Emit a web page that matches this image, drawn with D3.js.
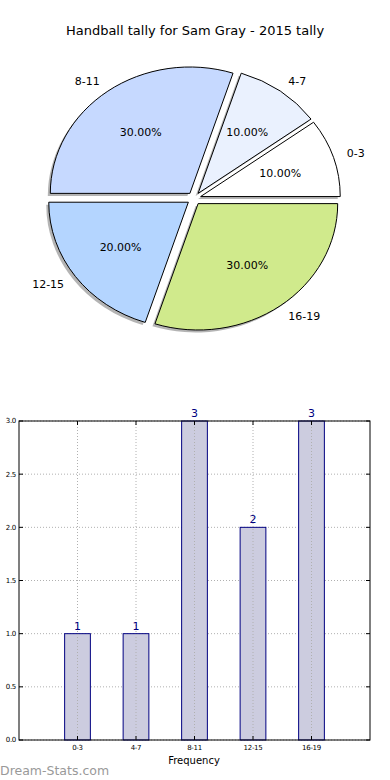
<!doctype html>
<html>
<head>
<meta charset="UTF-8">
<title>Handball tally</title>
<script src="https://d3js.org/d3.v7.min.js"></script>
<style>
  body { margin: 0; background: #fff; }
  text { font-family: "DejaVu Sans", sans-serif; }
</style>
</head>
<body>
<svg id="chart" width="390" height="780"></svg>
<script>
    // data
    var categories = ["0-3", "4-7", "8-11", "12-15", "16-19"];
    var counts = [1, 1, 3, 2, 3];
    var sliceColors = ["#ffffff", "#eaf1fe", "#c6d9ff", "#b4d5ff", "#d0ea8c"];
    var yTicks = [0.0, 0.5, 1.0, 1.5, 2.0, 2.5, 3.0];

    var svg = d3.select("#chart");

    svg.append("text")
        .attr("x", 195).attr("y", 35)
        .attr("text-anchor", "middle")
        .attr("font-size", 13)
        .text("Handball tally for Sam Gray - 2015 tally");

    // ---- pie (elliptical, like matplotlib without equal aspect) ----
    var cx = 194, cy = 198.5, rx = 139.6, ry = 126.4, explode = 0.05;
    var total = d3.sum(counts);
    // d3 angles: 0 = up, clockwise -> go counterclockwise from 3 o'clock
    var pie = d3.pie().sort(null).value(function (d) { return d; })
        .startAngle(Math.PI / 2).endAngle(Math.PI / 2 - 2 * Math.PI);
    var arcs = pie(counts);
    var arcGen = d3.arc().innerRadius(0).outerRadius(1);

    var gPie = svg.append("g").attr("transform", "translate(" + cx + "," + cy + ")");

    arcs.forEach(function (a) {
        var mid = (a.startAngle + a.endAngle) / 2;
        var ox = explode * Math.sin(mid), oy = -explode * Math.cos(mid);
        gPie.append("path")
            .attr("d", arcGen(a))
            .attr("transform", "translate(" + (ox * rx - 2.5) + "," + (oy * ry + 2.5) + ") scale(" + rx + "," + ry + ")")
            .attr("fill", "#777")
            .attr("opacity", 0.55);
    });
    arcs.forEach(function (a, i) {
        var mid = (a.startAngle + a.endAngle) / 2;
        var ox = explode * Math.sin(mid), oy = -explode * Math.cos(mid);
        gPie.append("path")
            .attr("d", arcGen(a))
            .attr("transform", "translate(" + (ox * rx) + "," + (oy * ry) + ") scale(" + rx + "," + ry + ")")
            .attr("fill", sliceColors[i])
            .attr("stroke", "#000")
            .attr("stroke-width", 1)
            .attr("vector-effect", "non-scaling-stroke");
    });
    arcs.forEach(function (a, i) {
        var mid = (a.startAngle + a.endAngle) / 2;
        var sx = Math.sin(mid), sy = -Math.cos(mid);
        gPie.append("text")
            .attr("x", (explode + 1.1) * rx * sx)
            .attr("y", (explode + 1.1) * ry * sy)
            .attr("dy", "0.35em")
            .attr("text-anchor", sx > 0 ? "start" : "end")
            .attr("font-size", 11)
            .text(categories[i]);
        gPie.append("text")
            .attr("x", (explode + 0.6) * rx * sx)
            .attr("y", (explode + 0.6) * ry * sy)
            .attr("dy", "0.35em")
            .attr("text-anchor", "middle")
            .attr("font-size", 11)
            .text((100 * counts[i] / total).toFixed(2) + "%");
    });

    // ---- bar chart ----
    var pLeft = 19, pRight = 370, pTop = 421, pBottom = 740;
    var x = d3.scaleLinear().domain([-1, 5]).range([pLeft, pRight]);
    var y = d3.scaleLinear().domain([0, 3]).range([pBottom, pTop]);
    var barW = 0.44;

    var gBar = svg.append("g");

    gBar.selectAll(".hgrid").data(yTicks).enter().append("line")
        .attr("x1", pLeft).attr("x2", pRight)
        .attr("y1", function (d) { return y(d); })
        .attr("y2", function (d) { return y(d); })
        .attr("stroke", "#b0b0b0").attr("stroke-width", 1)
        .attr("stroke-dasharray", "1,2");

    gBar.selectAll(".bar").data(counts).enter().append("rect")
        .attr("x", function (d, i) { return x(i - barW / 2); })
        .attr("y", function (d) { return y(d); })
        .attr("width", x(barW) - x(0))
        .attr("height", function (d) { return y(0) - y(d); })
        .attr("fill", "#ccccdf")
        .attr("stroke", "#000080")
        .attr("stroke-width", 1);

    gBar.selectAll(".vgrid").data(categories).enter().append("line")
        .attr("x1", function (d, i) { return x(i); })
        .attr("x2", function (d, i) { return x(i); })
        .attr("y1", pTop).attr("y2", pBottom)
        .attr("stroke", "#b0b0b0").attr("stroke-width", 1)
        .attr("stroke-dasharray", "1,2");

    gBar.selectAll(".val").data(counts).enter().append("text")
        .attr("x", function (d, i) { return x(i); })
        .attr("y", function (d) { return y(d) - 4; })
        .attr("text-anchor", "middle")
        .attr("font-size", 11)
        .attr("fill", "#000080")
        .text(function (d) { return d; });

    // inward tick marks on all four sides
    gBar.selectAll(".ytk").data(yTicks).enter().append("path")
        .attr("d", function (d) {
            return "M" + pLeft + "," + y(d) + "h4M" + pRight + "," + y(d) + "h-4";
        })
        .attr("stroke", "#000").attr("stroke-width", 1);
    gBar.selectAll(".xtk").data(categories).enter().append("path")
        .attr("d", function (d, i) {
            return "M" + x(i) + "," + pBottom + "v-4M" + x(i) + "," + pTop + "v4";
        })
        .attr("stroke", "#000").attr("stroke-width", 1);

    gBar.append("rect")
        .attr("x", pLeft).attr("y", pTop)
        .attr("width", pRight - pLeft).attr("height", pBottom - pTop)
        .attr("fill", "none").attr("stroke", "#000").attr("stroke-width", 1);

    gBar.selectAll(".ytl").data(yTicks).enter().append("text")
        .attr("x", pLeft - 3)
        .attr("y", function (d) { return y(d); })
        .attr("dy", "0.35em")
        .attr("text-anchor", "end")
        .attr("font-size", 7)
        .attr("letter-spacing", -0.3)
        .text(function (d) { return d.toFixed(1); });

    gBar.selectAll(".xtl").data(categories).enter().append("text")
        .attr("x", function (d, i) { return x(i); })
        .attr("y", pBottom + 10)
        .attr("text-anchor", "middle")
        .attr("font-size", 7)
        .attr("letter-spacing", -0.3)
        .text(function (d) { return d; });

    svg.append("text")
        .attr("x", 194).attr("y", 764)
        .attr("text-anchor", "middle")
        .attr("font-size", 10)
        .text("Frequency");

    svg.append("text")
        .attr("x", 0).attr("y", 775)
        .attr("font-size", 12.5)
        .attr("fill", "#999")
        .text("Dream-Stats.com");
</script>
</body>
</html>
